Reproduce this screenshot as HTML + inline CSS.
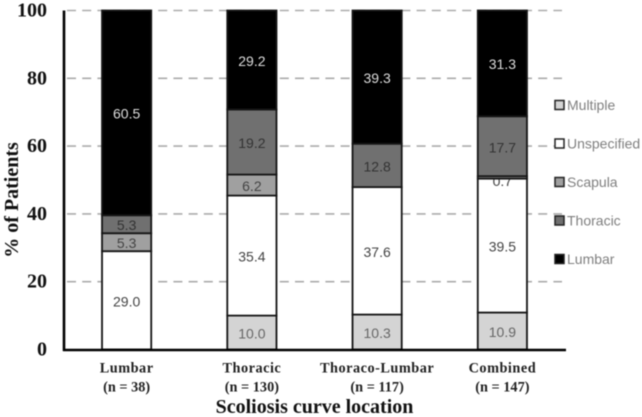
<!DOCTYPE html>
<html>
<head>
<meta charset="utf-8">
<style>
html,body{margin:0;padding:0;background:#fff;width:642px;height:417px;overflow:hidden}
svg{display:block;filter:blur(0.45px)}
.tick{font:bold 20px "Liberation Serif",serif;fill:#111;text-anchor:end}
.cat{font:bold 14.3px "Liberation Serif",serif;fill:#222;text-anchor:middle}
.title{font:bold 20px "Liberation Serif",serif;fill:#111;text-anchor:middle}
.val{font:14px "Liberation Sans",sans-serif;text-anchor:middle;dominant-baseline:central}
.leg{font:14px "Liberation Sans",sans-serif;fill:#808080;dominant-baseline:central}
</style>
</head>
<body>
<svg id="chart" xmlns="http://www.w3.org/2000/svg" width="642" height="417" viewBox="0 0 642 417"></svg>
<script>
const categories = ["Lumbar", "Thoracic", "Thoraco-Lumbar", "Combined"];
const sampleSizes = ["(n = 38)", "(n = 130)", "(n = 117)", "(n = 147)"];
const multiple = [0, 10.0, 10.3, 10.9];
const unspecified = [29.0, 35.4, 37.6, 39.5];
const scapula = [5.3, 6.2, 0, 0.7];
const thoracic = [5.3, 19.2, 12.8, 17.7];
const lumbar = [60.5, 29.2, 39.3, 31.3];
const yTicks = [0, 20, 40, 60, 80, 100];
const seriesNames = ["Multiple", "Unspecified", "Scapula", "Thoracic", "Lumbar"];
const seriesValues = [multiple, unspecified, scapula, thoracic, lumbar];
const seriesFill = ["#d4d4d4", "#ffffff", "#a0a0a0", "#707070", "#000000"];
const labelFill = ["#666666", "#444444", "#444444", "#333333", "#dddddd"];

const svg = document.getElementById('chart');
const NS = 'http://www.w3.org/2000/svg';
const x0 = 64, x1 = 565, y0 = 349.5, yTop = 10.5, barW = 51;
const band = (x1 - x0) / categories.length;
const yScale = v => y0 - (v / 100) * (y0 - yTop);
const xScale = i => x0 + band * (i + 0.5);

function mk(tag, attrs, text) {
  const el = document.createElementNS(NS, tag);
  for (const k in attrs) el.setAttribute(k, attrs[k]);
  if (text !== undefined) el.textContent = text;
  svg.appendChild(el);
  return el;
}

function drawSegment(c, i, s, start, v) {
  const cx = xScale(i);
  const top = yScale(Math.min(start + v, 100));
  const bot = yScale(start);
  const r = mk('rect', {x: cx - barW / 2 + 0.9, y: top, width: barW - 1.8, height: bot - top, fill: seriesFill[s], stroke: '#151515', 'stroke-width': 1.8});
  
  
}

// gridlines
yTicks.forEach(t => {
  if (t === 0) return;
  const g = mk('line', {x1: x0 + 3, x2: 562, y1: yScale(t), y2: yScale(t), stroke: '#ababab', 'stroke-width': 1.6, 'stroke-dasharray': '9 6.2'});
  
  
});

// bars: thin segments wait until after labels, since they overlap their label
const thinSegments = [];
categories.forEach((c, i) => {
  let cum = 0;
  seriesValues.forEach((vals, s) => {
    const v = vals[i];
    if (v <= 0) return;
    if (v < 2) thinSegments.push([c, i, s, cum, v]);
    else drawSegment(c, i, s, cum, v);
    cum += v;
  });
});

// value labels
categories.forEach((c, i) => {
  let cum = 0;
  const cx = xScale(i);
  seriesValues.forEach((vals, s) => {
    const v = vals[i];
    if (v <= 0) return;
    const ly = yScale(cum + v / 2) + (v < 2 ? 3.5 : 1);
    const t = mk('text', {x: cx, y: ly, class: 'val', fill: labelFill[s]}, v.toFixed(1));
    
    
    cum += v;
  });
});

thinSegments.forEach(a => drawSegment(a[0], a[1], a[2], a[3], a[4]));

// axes
const ya = mk('line', {x1: x0, x2: x0, y1: yTop, y2: y0 + 1.5, stroke: '#000', 'stroke-width': 2.6});


const xa = mk('line', {x1: x0 - 1, x2: x1 + 1, y1: y0 + 0.5, y2: y0 + 0.5, stroke: '#000', 'stroke-width': 2.4});



// y tick labels
yTicks.forEach(t => {
  const l = mk('text', {x: 47, y: yScale(t) + 6, class: 'tick'}, String(t));
  
  
});

// category labels
categories.forEach((c, i) => {
  const a = mk('text', {x: xScale(i), y: 372.5, class: 'cat', 'letter-spacing': '0.5'}, c);
  
  
  const b = mk('text', {x: xScale(i), y: 391.5, class: 'cat'}, sampleSizes[i]);
  
  
});

// legend
seriesNames.forEach((n, i) => {
  const ly = 105 + i * 38.5;
  const sw = mk('rect', {x: 555, y: ly - 4.5, width: 9, height: 9, fill: seriesFill[i], stroke: '#222', 'stroke-width': 1.5});
  
  
  const t = mk('text', {x: 567, y: ly, class: 'leg'}, n);
  
  
});

// axis titles
const xt = mk('text', {x: 314.5, y: 413, class: 'title'}, 'Scoliosis curve location');


const yt = mk('text', {x: 0, y: 0, class: 'title', transform: 'translate(18 200) rotate(-90)'}, '% of Patients');


</script>
</body>
</html>
